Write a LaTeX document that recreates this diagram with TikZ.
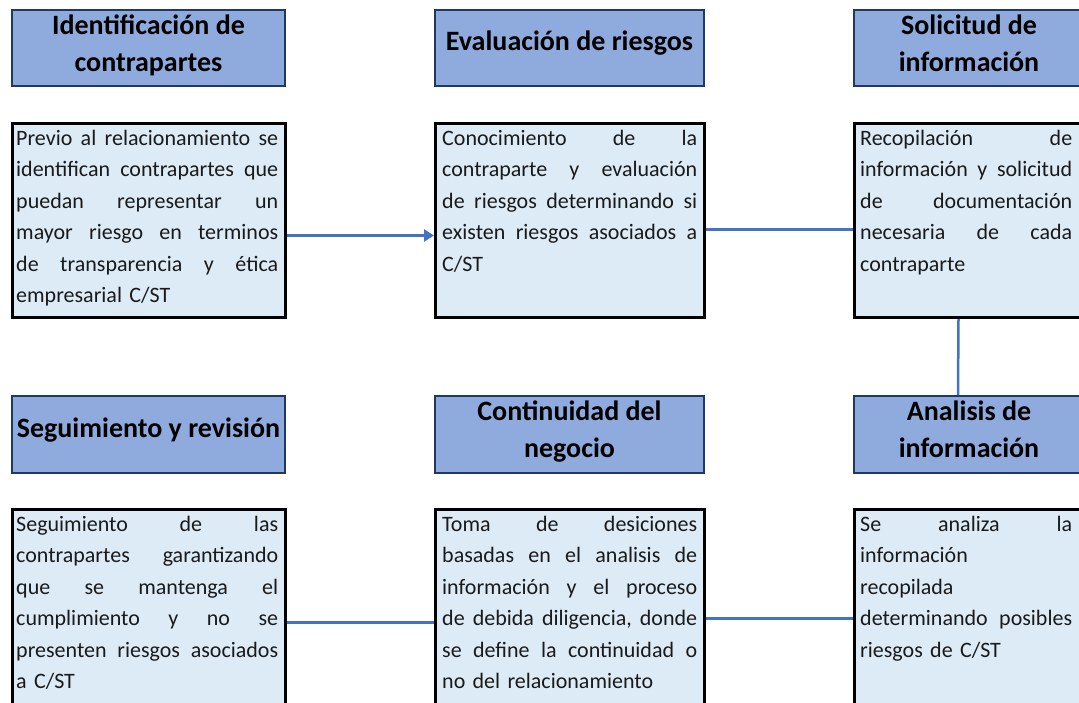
\documentclass[tikz,border=0pt]{standalone}
\usepackage{fontspec}
\setmainfont{Carlito}
\usetikzlibrary{arrows.meta}
\definecolor{hdrfill}{HTML}{8FAADC}
\definecolor{hdrdraw}{HTML}{1F3864}
\definecolor{descfill}{HTML}{DDEBF7}
\definecolor{conncol}{HTML}{4472C4}
\definecolor{txtcol}{HTML}{1A1A1A}
\newcommand\cw{262pt}
\newcommand\jl[1]{\leavevmode\hbox to \cw{\frenchspacing\spaceskip=\fontdimen2\font plus 1fil\relax\rule{0pt}{20pt}#1}\\}
\newcommand\lastline[1]{\rule{0pt}{20pt}#1}
\newcommand\hs{\rule{0pt}{23pt}}
\begin{document}
\begin{tikzpicture}[x=1pt,y=-1pt,
  hdrbox/.style={draw=hdrdraw,line width=2pt,fill=hdrfill,anchor=north west,inner sep=0pt},
  descbox/.style={draw=black,line width=3pt,fill=descfill,anchor=north west,inner sep=0pt},
  htxt/.style={font=\bfseries\fontsize{28}{37}\selectfont,text=black,align=center,anchor=north,inner sep=0pt},
  dtxt/.style={font=\fontsize{22}{31.5}\selectfont\renewcommand\cw{#1},text width=#1,text=txtcol,align=left,anchor=north west,inner sep=0pt},
  connline/.style={draw=conncol,line width=2.5pt},
  connarrow/.style={connline,-{Triangle[length=10pt,width=12pt]}}]
\useasboundingbox (0,0) rectangle (1079,703);
\clip (0,0) rectangle (1079,703);
% header boxes
\node[hdrbox,minimum width=273pt,minimum height=76pt] (h1) at (11,9) {};
\node[hdrbox,minimum width=269pt,minimum height=76pt] (h2) at (434,9) {};
\node[hdrbox,minimum width=230pt,minimum height=76pt] (h3) at (853,9) {};
\node[hdrbox,minimum width=273pt,minimum height=77pt] (h4) at (11,395) {};
\node[hdrbox,minimum width=269pt,minimum height=77pt] (h5) at (434,395) {};
\node[hdrbox,minimum width=230pt,minimum height=77pt] (h6) at (853,395) {};
% description boxes
\node[descbox,minimum width=273pt,minimum height=194pt] (d1) at (11,122) {};
\node[descbox,minimum width=269pt,minimum height=194pt] (d2) at (434,122) {};
\node[descbox,minimum width=230pt,minimum height=194pt] (d3) at (853,122) {};
\node[descbox,minimum width=273pt,minimum height=212pt] (d4) at (11,508) {};
\node[descbox,minimum width=269pt,minimum height=212pt] (d5) at (434,508) {};
\node[descbox,minimum width=230pt,minimum height=212pt] (d6) at (853,508) {};
% header texts
\node[htxt] (t1) at ([yshift=-2pt]h1.north) {\hs Identificación de\\contrapartes};
\node[htxt] (t2) at ([yshift=-18pt]h2.north) {\hs Evaluación de riesgos};
\node[htxt] (t3) at ([yshift=-2pt]h3.north) {\hs Solicitud de\\información};
\node[htxt] (t4) at ([yshift=-19pt]h4.north) {\hs Seguimiento y revisión};
\node[htxt] (t5) at ([yshift=-2pt]h5.north) {\hs Continuidad del\\negocio};
\node[htxt] (t6) at ([yshift=-2pt]h6.north) {\hs Analisis de\\información};
% description texts
\node[dtxt=262pt] (x1) at ([xshift=5pt,yshift=-3pt]d1.north west) {%
\jl{Previo al relacionamiento se}
\jl{identifican contrapartes que}
\jl{puedan representar un}
\jl{mayor riesgo en terminos}
\jl{de transparencia y ética}
\lastline{empresarial C/ST}};
\node[dtxt=255pt] (x2) at ([xshift=8pt,yshift=-3pt]d2.north west) {%
\jl{Conocimiento de la}
\jl{contraparte y evaluación}
\jl{de riesgos determinando si}
\jl{existen riesgos asociados a}
\lastline{C/ST}};
\node[dtxt=212pt] (x3) at ([xshift=7pt,yshift=-3pt]d3.north west) {%
\jl{Recopilación de}
\jl{información y solicitud}
\jl{de documentación}
\jl{necesaria de cada}
\lastline{contraparte}};
\node[dtxt=262pt] (x4) at ([xshift=5pt,yshift=-3pt]d4.north west) {%
\jl{Seguimiento de las}
\jl{contrapartes garantizando}
\jl{que se mantenga el}
\jl{cumplimiento y no se}
\jl{presenten riesgos asociados}
\lastline{a C/ST}};
\node[dtxt=255pt] (x5) at ([xshift=8pt,yshift=-3pt]d5.north west) {%
\jl{Toma de desiciones}
\jl{basadas en el analisis de}
\jl{información y el proceso}
\jl{de debida diligencia, donde}
\jl{se define la continuidad o}
\lastline{no del relacionamiento}};
\node[dtxt=212pt] (x6) at ([xshift=7pt,yshift=-3pt]d6.north west) {%
\jl{Se analiza la}
\lastline{información}\\
\lastline{recopilada}\\
\jl{determinando posibles}
\lastline{riesgos de C/ST}};
% connectors
\draw[connarrow] ([yshift=-15pt]d1.east) -- ([yshift=-15pt]d2.west);
\draw[connline] ([yshift=-9pt]d2.east) -- ([yshift=-9pt]d3.west);
\draw[connline] ([xshift=-11pt]d3.south) -- ([xshift=-11pt]h6.north);
\draw[connline] ([yshift=-3pt]d6.west) -- ([yshift=-3pt]d5.east);
\draw[connline] ([yshift=-7pt]d5.west) -- ([yshift=-7pt]d4.east);
\end{tikzpicture}
\end{document}
